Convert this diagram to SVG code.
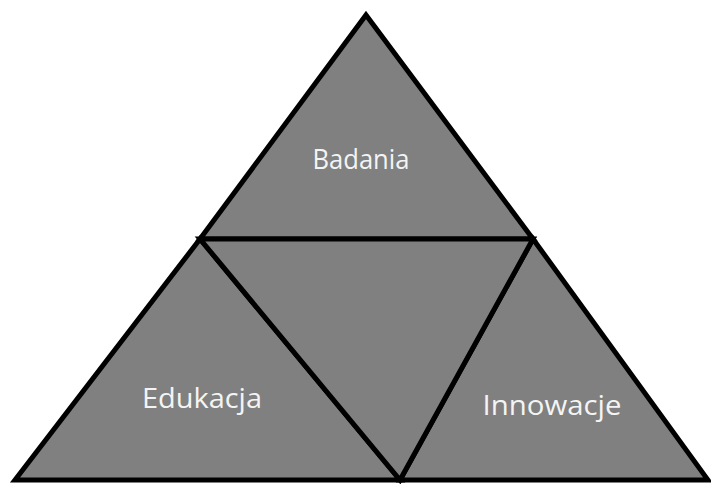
<svg xmlns="http://www.w3.org/2000/svg" width="711" height="484" viewBox="0 0 711 484">
<style>
.tri{fill:#808080;stroke:#000;stroke-width:5;stroke-linejoin:miter}
.lbl{font-family:"Open Sans","Noto Sans",sans-serif;font-size:27px;fill:#f4f4f4;text-anchor:middle}
</style>
<rect width="711" height="484" fill="#fff"/>
<g id="badania">
<polygon class="tri" points="366,15 533,239 200,239"/>
<text class="lbl" x="361" y="169" textLength="97" lengthAdjust="spacingAndGlyphs">Badania</text>
</g>
<g id="edukacja">
<polygon class="tri" points="200,239 400,480 15,480"/>
<text class="lbl" x="202" y="408" textLength="120" lengthAdjust="spacingAndGlyphs">Edukacja</text>
</g>
<g id="innowacje">
<polygon class="tri" points="533,239 708,480 400,480"/>
<text class="lbl" x="552" y="415" textLength="139" lengthAdjust="spacingAndGlyphs">Innowacje</text>
</g>
<g id="center">
<polygon class="tri" points="200,239 533,239 400,480"/>
</g>
<g id="connectors"></g>
</svg>
